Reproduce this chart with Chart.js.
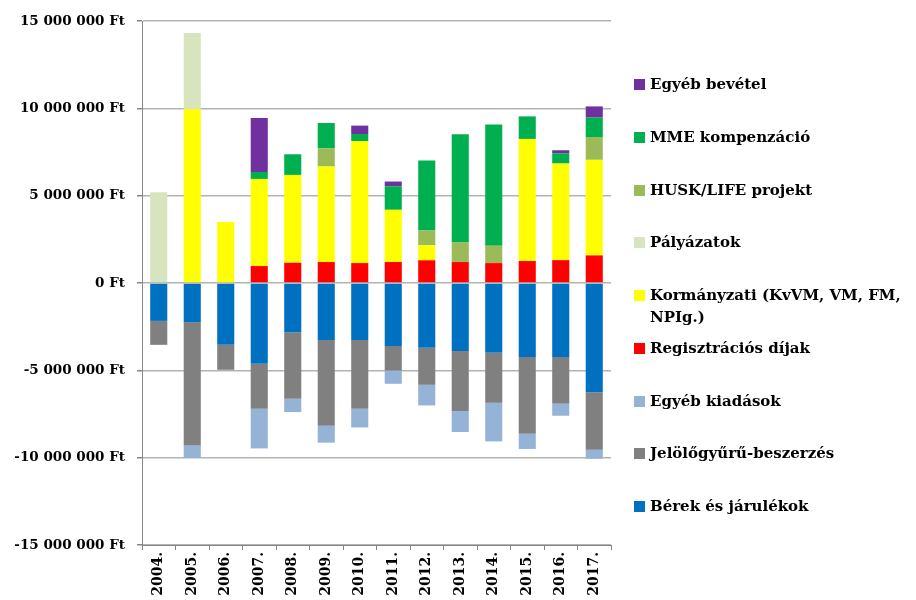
<!DOCTYPE html>
<html lang="hu">
<head>
<meta charset="utf-8">
<title>Bevételek és kiadások</title>
<script src="https://cdn.jsdelivr.net/npm/chart.js@4/dist/chart.umd.min.js"></script>
<style>
    body { margin: 0; background: #fff; }
    #wrap { position: relative; width: 916px; height: 600px; }
    #legend {
        position: absolute; left: 634px; top: 73px; width: 282px;
        font-family: "DejaVu Serif", serif; font-weight: bold; font-size: 15px; color: #000;
    }
    .item { position: relative; height: 22px; margin-bottom: 30.75px; line-height: 22px; }
    .box { position: absolute; left: 0; top: 6px; width: 11px; height: 11px; }
    .txt { position: absolute; left: 16px; top: 0; width: 266px; line-height: 22px; }
</style>
</head>
<body>
<div id="wrap">
    <canvas id="myChart" width="916" height="600"></canvas>
    <div id="legend"></div>
</div>
<script>
// Évek (kategóriák)
const evek = ["2004.", "2005.", "2006.", "2007.", "2008.", "2009.", "2010.", "2011.", "2012.", "2013.", "2014.", "2015.", "2016.", "2017."];

// Kiadások (Ft) - negatív oldal
const berek = [-2170000, -2250000, -3540000, -4630000, -2820000, -3270000, -3270000, -3600000, -3710000, -3890000, -4000000, -4230000, -4230000, -6250000];
const gyuru = [-1370000, -7050000, -1430000, -2570000, -3810000, -4900000, -3930000, -1410000, -2120000, -3440000, -2860000, -4400000, -2680000, -3290000];
const egyebKiadas = [0, -720000, 0, -2270000, -760000, -970000, -1070000, -760000, -1180000, -1200000, -2210000, -870000, -690000, -520000];

// Bevételek (Ft) - pozitív oldal
const regisztracio = [0, 0, 0, 970000, 1160000, 1200000, 1140000, 1200000, 1300000, 1200000, 1140000, 1260000, 1310000, 1580000];
const kormanyzati = [0, 9960000, 3490000, 4990000, 5030000, 5470000, 6990000, 2990000, 870000, 0, 0, 6990000, 5530000, 5470000];
const palyazat = [5200000, 4360000, 0, 0, 0, 0, 0, 0, 0, 0, 0, 0, 0, 0];
const husk = [0, 0, 0, 0, 0, 1040000, 0, 0, 840000, 1140000, 990000, 0, 0, 1310000];
const mme = [0, 0, 0, 400000, 1180000, 1450000, 400000, 1350000, 4000000, 6170000, 6940000, 1290000, 590000, 1110000];
const egyebBevetel = [0, 0, 0, 3090000, 0, 0, 480000, 270000, 0, 0, 0, 0, 170000, 640000];

// Y tengely
const yMin = -15000000;
const yMax = 15000000;
const yStep = 5000000;

const betu = "'DejaVu Serif', serif";

// Ft formátum: "15 000 000 Ft"
function ftFormat(v) {
    return String(v).replace(/\B(?=(\d{3})+(?!\d))/g, " ") + " Ft";
}

const datasets = [
    { label: "Bérek és járulékok", data: berek, backgroundColor: "#0070C0" },
    { label: "Jelölőgyűrű-beszerzés", data: gyuru, backgroundColor: "#808080" },
    { label: "Egyéb kiadások", data: egyebKiadas, backgroundColor: "#95B3D7" },
    { label: "Regisztrációs díjak", data: regisztracio, backgroundColor: "#FF0000" },
    { label: "Kormányzati (KvVM, VM, FM, NPIg.)", data: kormanyzati, backgroundColor: "#FFFF00" },
    { label: "Pályázatok", data: palyazat, backgroundColor: "#D7E4BD" },
    { label: "HUSK/LIFE projekt", data: husk, backgroundColor: "#9BBB59" },
    { label: "MME kompenzáció", data: mme, backgroundColor: "#00B050" },
    { label: "Egyéb bevétel", data: egyebBevetel, backgroundColor: "#7030A0" }
];
datasets.forEach(d => { d.borderWidth = 0; d.barPercentage = 0.51; d.categoryPercentage = 1; });

const ctx = document.getElementById("myChart").getContext("2d");
const myChart = new Chart(ctx, {
    type: "bar",
    data: { labels: evek, datasets: datasets },
    options: {
        responsive: false,
        animation: false,
        layout: { padding: { top: 21, right: 305, left: 0, bottom: 0 } },
        plugins: {
            legend: { display: false },
            tooltip: { enabled: false }
        },
        scales: {
            x: {
                stacked: true,
                afterFit: s => { s.height = 55; },
                grid: { drawOnChartArea: false, drawTicks: true, tickLength: 5, color: "#868686", offset: true },
                border: { color: "#868686" },
                ticks: {
                    minRotation: 90, maxRotation: 90, padding: 2, color: "#000",
                    font: { family: betu, weight: "bold", size: 14 }
                }
            },
            y: {
                stacked: true,
                min: yMin,
                max: yMax,
                afterFit: s => { s.width = 142; },
                grid: { color: "#b3b3b3", lineWidth: 1.5, tickLength: 5, tickColor: "#868686" },
                border: { color: "#868686" },
                ticks: {
                    stepSize: yStep, padding: 12, color: "#000",
                    font: { family: betu, weight: "bold", size: 13.5 },
                    callback: v => ftFormat(v)
                }
            }
        }
    }
});

// Jelmagyarázat - fordított sorrendben, mint a halmozás
const legend = document.getElementById("legend");
datasets.slice().reverse().forEach(d => {
    const item = document.createElement("div");
    item.className = "item";
    item.innerHTML = '<span class="box" style="background:' + d.backgroundColor + '"></span><span class="txt">' + d.label + '</span>';
    legend.appendChild(item);
});
</script>
</body>
</html>
